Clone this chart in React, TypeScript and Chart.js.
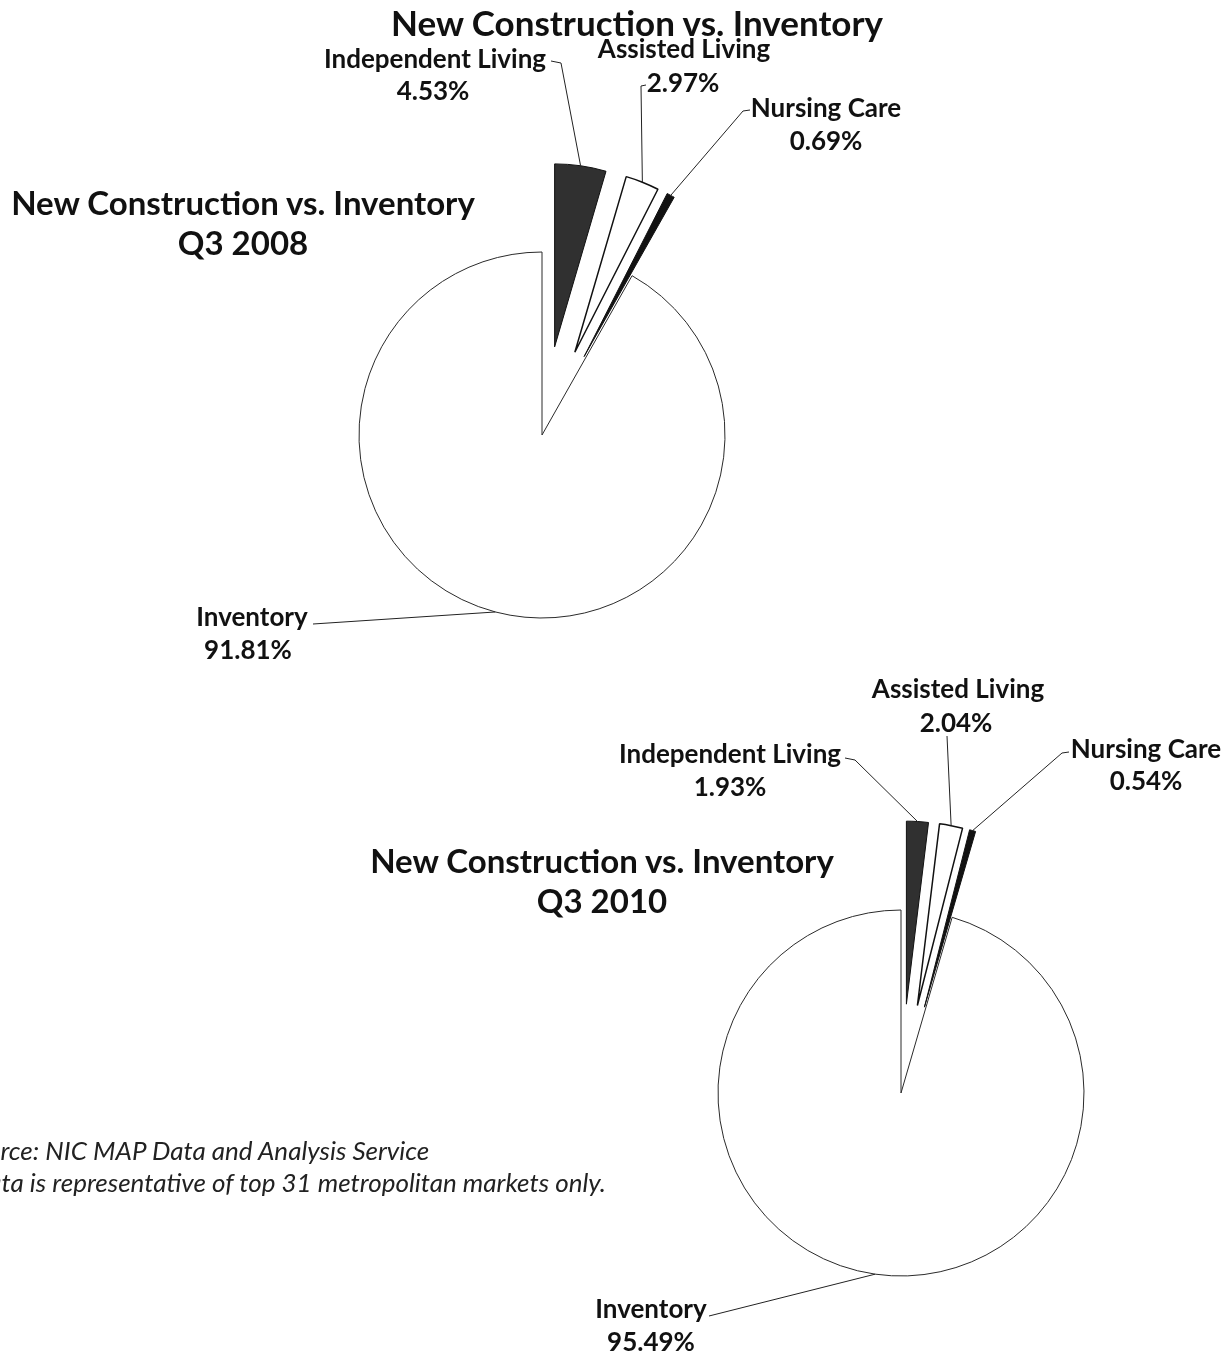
import React, { useEffect, useRef } from "react";
import { Chart, registerables } from "chart.js";

Chart.register(...registerables);

// ---------------- data ----------------
const CATEGORIES = ["Independent Living", "Assisted Living", "Nursing Care", "Inventory"];
const VALUES_Q3_2008 = [4.53, 2.97, 0.69, 91.81];
const VALUES_Q3_2010 = [1.93, 2.04, 0.54, 95.49];
const MAIN_TITLE = "New Construction vs. Inventory";
const PERIODS = ["Q3 2008", "Q3 2010"];
const SOURCE_LINES = [
  "Source: NIC MAP Data and Analysis Service",
  "Data is representative of top 31 metropolitan markets only.",
];

// ---------------- styles ----------------
const FONT = "Lato, 'Open Sans', sans-serif";
const FILLS = ["#303030", "#ffffff", "#121212", "#ffffff"];
const BORDERS = ["#111111", "#111111", "#111111", "#2a2a2a"];
const BORDER_WIDTHS = [1, 1.5, 1, 1];
const EXPLODE_PX = [89, 89, 89, 0];
const PIE_RADIUS = 183;
const LABEL_FONT = `bold 26px ${FONT}`;

type Pt = [number, number];
type LabelItem = { name: Pt; value: Pt; line: Pt[] };

// label placement (page coordinates)
const LAYOUT_2008: LabelItem[] = [
  { name: [435, 60], value: [433, 92], line: [[551, 61], [561, 63]] },
  { name: [684, 50], value: [683, 84], line: [[646, 85], [641, 86]] },
  { name: [826, 109], value: [826, 142], line: [[750, 110], [743, 111]] },
  { name: [252, 618], value: [248, 651], line: [[313, 624]] },
];
const LAYOUT_2010: LabelItem[] = [
  { name: [730, 755], value: [730, 788], line: [[845, 758], [855, 760]] },
  { name: [958, 690], value: [956, 724], line: [[947, 736]] },
  { name: [1146, 750], value: [1146, 782], line: [[1069, 752], [1062, 753]] },
  { name: [651, 1310], value: [651, 1343], line: [[709, 1316]] },
];

const W = 1225;
const H = 1360;

// Explode slices by moving each arc element outward along its bisector
const explodePlugin = {
  id: "explodeSlices",
  afterDatasetUpdate(chart: any, args: any) {
    const meta = args.meta;
    meta.data.forEach((arc: any, i: number) => {
      const px = EXPLODE_PX[i] || 0;
      if (!px) return;
      const half = (arc.startAngle + arc.endAngle) / 2;
      arc.x += Math.cos(half) * px;
      arc.y += Math.sin(half) * px;
    });
  },
};

function makeLeaderPlugin(layout: LabelItem[]) {
  return {
    id: "leaderLabels",
    afterDraw(chart: any) {
      const { ctx } = chart;
      const meta = chart.getDatasetMeta(0);
      const values: number[] = chart.data.datasets[0].data;
      layout.forEach((item, i) => {
        const arc = meta.data[i];
        if (!arc) return;
        const half = (arc.startAngle + arc.endAngle) / 2;
        const ex = arc.x + Math.cos(half) * arc.outerRadius;
        const ey = arc.y + Math.sin(half) * arc.outerRadius;
        ctx.save();
        ctx.strokeStyle = "#222";
        ctx.lineWidth = 1;
        ctx.beginPath();
        item.line.forEach(([x, y], k) => (k ? ctx.lineTo(x, y) : ctx.moveTo(x, y)));
        ctx.lineTo(ex, ey);
        ctx.stroke();
        ctx.fillStyle = "#111";
        ctx.font = LABEL_FONT;
        ctx.textAlign = "center";
        ctx.textBaseline = "middle";
        ctx.fillText(chart.data.labels[i], item.name[0], item.name[1]);
        ctx.fillText(values[i].toFixed(2) + "%", item.value[0], item.value[1]);
        ctx.restore();
      });
    },
  };
}

function makeConfig(values: number[], padding: any, layout: LabelItem[]): any {
  return {
    type: "pie",
    data: {
      labels: CATEGORIES,
      datasets: [
        {
          data: values,
          backgroundColor: FILLS,
          borderColor: BORDERS,
          borderWidth: BORDER_WIDTHS,
          offset: 0,
          hoverOffset: 0,
          radius: PIE_RADIUS,
          clip: false,
        },
      ],
    },
    options: {
      responsive: false,
      animation: false,
      events: [],
      layout: { padding },
      plugins: {
        legend: { display: false },
        tooltip: { enabled: false },
        title: { display: false },
      },
    },
    plugins: [explodePlugin, makeLeaderPlugin(layout)],
  };
}

function PieCanvas({ values, padding, layout }: { values: number[]; padding: any; layout: LabelItem[] }) {
  const ref = useRef<HTMLCanvasElement | null>(null);
  useEffect(() => {
    if (!ref.current) return;
    const chart = new Chart(ref.current, makeConfig(values, padding, layout));
    return () => chart.destroy();
  }, []);
  return (
    <canvas
      ref={ref}
      width={W}
      height={H}
      style={{ position: "absolute", left: 0, top: 0, width: W, height: H }}
    />
  );
}

const titleStyle: React.CSSProperties = {
  position: "absolute",
  width: 800,
  textAlign: "center",
  fontFamily: FONT,
  fontWeight: 700,
  color: "#111",
  whiteSpace: "nowrap",
};

const sourceStyle: React.CSSProperties = {
  position: "absolute",
  fontFamily: FONT,
  fontStyle: "italic",
  fontSize: 26,
  lineHeight: "32px",
  color: "#222",
  whiteSpace: "nowrap",
};

export default function App() {
  return (
    <div
      style={{
        position: "absolute",
        left: 0,
        top: 0,
        width: W,
        height: H,
        overflow: "hidden",
        background: "#fff",
      }}
    >
      {/* chart 1: centre (542, 435) */}
      <PieCanvas
        values={VALUES_Q3_2008}
        padding={{ left: 0, right: W - 1084, top: 0, bottom: H - 870 }}
        layout={LAYOUT_2008}
      />
      {/* chart 2: centre (901, 1093) */}
      <PieCanvas
        values={VALUES_Q3_2010}
        padding={{ left: 2 * 901 - W, right: 0, top: 2 * 1093 - H, bottom: 0 }}
        layout={LAYOUT_2010}
      />
      <div style={{ ...titleStyle, left: 637 - 400, top: 1, fontSize: 35, lineHeight: "42px" }}>{MAIN_TITLE}</div>
      <div style={{ ...titleStyle, left: 243 - 400, top: 182, fontSize: 33, lineHeight: "40px" }}>
        {MAIN_TITLE}
        <br />
        {PERIODS[0]}
      </div>
      <div style={{ ...titleStyle, left: 602 - 400, top: 840, fontSize: 33, lineHeight: "40px" }}>
        {MAIN_TITLE}
        <br />
        {PERIODS[1]}
      </div>
      <div style={{ ...sourceStyle, left: -40, top: 1134 }}>{SOURCE_LINES[0]}</div>
      <div style={{ ...sourceStyle, left: -30, top: 1166 }}>{SOURCE_LINES[1]}</div>
    </div>
  );
}
